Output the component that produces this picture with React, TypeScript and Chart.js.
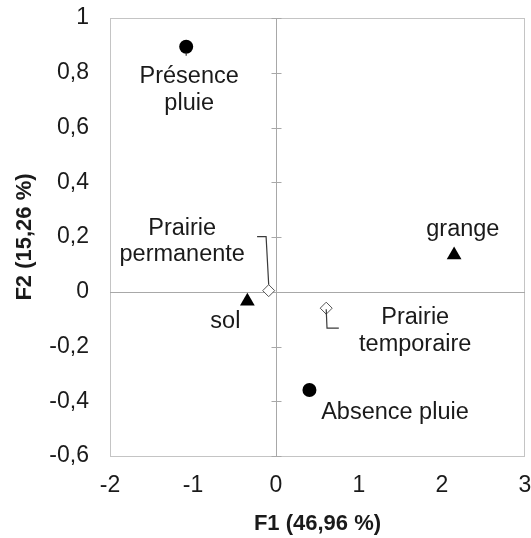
import React, { useEffect, useRef } from "react";
import { Chart, registerables } from "chart.js";

Chart.register(...registerables);

// ---- data ----
const rainNames = ["Présence pluie", "Absence pluie"];
const rainX = [-1.082, 0.403];
const rainY = [0.895, -0.359];

const placeNames = ["sol", "grange"];
const placeX = [-0.345, 2.146];
const placeY = [-0.035, 0.134];

const meadowNames = ["Prairie permanente", "Prairie temporaire"];
const meadowX = [-0.088, 0.605];
const meadowY = [0.004, -0.06];

const xTickValues = [-2, -1, 0, 1, 2, 3];
const xTickLabels = ["-2", "-1", "0", "1", "2", "3"];
const yTickValues = [-0.6, -0.4, -0.2, 0, 0.2, 0.4, 0.6, 0.8, 1];
const yTickLabels = ["-0,6", "-0,4", "-0,2", "0", "0,2", "0,4", "0,6", "0,8", "1"];

const xTitle = "F1 (46,96 %)";
const yTitle = "F2 (15,26 %)";

// ---- label layout (pixel offsets from the point) ----
type LabelLayout = { lines: string[]; dx: number; dy: number[]; leader?: [number, number][] };
const labelLayout: Record<string, LabelLayout> = {
  "Présence pluie": { lines: ["Présence", "pluie"], dx: 3, dy: [36, 63.3], leader: [[0, 6], [0, 9]] },
  "Absence pluie": { lines: ["Absence pluie"], dx: 85.5, dy: [29] },
  sol: { lines: ["sol"], dx: -22, dy: [27] },
  grange: { lines: ["grange"], dx: 8.7, dy: [-19] },
  "Prairie permanente": {
    lines: ["Prairie", "permanente"],
    dx: -86.5,
    dy: [-55.7, -29.7],
    leader: [[-11.6, -54], [-2.6, -54], [0, -6]],
  },
  "Prairie temporaire": {
    lines: ["Prairie", "temporaire"],
    dx: 89,
    dy: [16, 42.7],
    leader: [[0, 1], [0.8, 20], [12.6, 20]],
  },
};

const FONT = "'Liberation Sans', Arial, Helvetica, sans-serif";
const TEXT = "#1a1a1a";

const decor = {
  id: "decor",
  beforeDatasetsDraw(chart: any) {
    const { ctx, chartArea } = chart;
    const xs = chart.scales.x;
    const ys = chart.scales.y;
    ctx.save();
    // frame
    ctx.strokeStyle = "#c4c4c4";
    ctx.lineWidth = 1;
    ctx.strokeRect(
      Math.round(chartArea.left) + 0.5,
      Math.round(chartArea.top) + 0.5,
      Math.round(chartArea.right - chartArea.left) - 1,
      Math.round(chartArea.bottom - chartArea.top)
    );
    // zero lines
    const x0 = Math.round(xs.getPixelForValue(0)) + 0.5;
    const y0 = Math.round(ys.getPixelForValue(0)) + 0.5;
    ctx.strokeStyle = "#a8a8a8";
    ctx.beginPath();
    ctx.moveTo(x0, chartArea.top);
    ctx.lineTo(x0, chartArea.bottom);
    ctx.moveTo(chartArea.left, y0);
    ctx.lineTo(chartArea.right, y0);
    // tick marks on the vertical zero line
    yTickValues.forEach((v) => {
      const py = Math.round(ys.getPixelForValue(v)) + 0.5;
      ctx.moveTo(x0 - 5, py);
      ctx.lineTo(x0 + 5, py);
    });
    ctx.stroke();
    ctx.restore();
  },
  afterDatasetsDraw(chart: any) {
    const { ctx } = chart;
    ctx.save();
    chart.data.datasets.forEach((ds: any, di: number) => {
      const meta = chart.getDatasetMeta(di);
      ds.names.forEach((name: string, i: number) => {
        const el = meta.data[i];
        const lay = labelLayout[name];
        if (!el || !lay) return;
        const px = el.x;
        const py = el.y;
        if (lay.leader) {
          ctx.strokeStyle = "#3a3a3a";
          ctx.lineWidth = 1.2;
          ctx.beginPath();
          lay.leader.forEach(([lx, ly], k) => {
            if (k === 0) ctx.moveTo(px + lx, py + ly);
            else ctx.lineTo(px + lx, py + ly);
          });
          ctx.stroke();
        }
        ctx.fillStyle = TEXT;
        ctx.font = `23.5px ${FONT}`;
        ctx.textAlign = "center";
        ctx.textBaseline = "alphabetic";
        lay.lines.forEach((line, k) => {
          ctx.fillText(line, px + lay.dx, py + lay.dy[k]);
        });
      });
    });
    ctx.restore();
  },
};

export default function App() {
  const ref = useRef<HTMLCanvasElement | null>(null);

  useEffect(() => {
    if (!ref.current) return;
    Chart.defaults.font.family = FONT;
    const toPts = (xs: number[], ys: number[]) => xs.map((x, i) => ({ x, y: ys[i] }));
    const chart = new Chart(ref.current, {
      type: "scatter",
      data: {
        datasets: [
          {
            label: "pluie",
            names: rainNames,
            data: toPts(rainX, rainY),
            pointStyle: "circle",
            pointRadius: 7,
            backgroundColor: "#000",
            borderColor: "#000",
            borderWidth: 0,
          } as any,
          {
            label: "lieu",
            names: placeNames,
            data: toPts(placeX, placeY),
            pointStyle: "triangle",
            pointRadius: 8.5,
            backgroundColor: "#000",
            borderColor: "#000",
            borderWidth: 0,
          } as any,
          {
            label: "prairie",
            names: meadowNames,
            data: toPts(meadowX, meadowY),
            pointStyle: "rectRot",
            pointRadius: 6,
            backgroundColor: "#fff",
            borderColor: "#555",
            borderWidth: 1,
          } as any,
        ],
      },
      options: {
        animation: false,
        responsive: false,
        events: [],
        layout: { autoPadding: false, padding: { top: 18, right: 6, bottom: 0, left: 0 } },
        plugins: { legend: { display: false }, tooltip: { enabled: false } },
        scales: {
          x: {
            type: "linear",
            min: -2,
            max: 3,
            grid: { display: false, drawTicks: false },
            border: { display: false },
            afterBuildTicks: (s: any) => {
              s.ticks = xTickValues.map((v) => ({ value: v }));
            },
            afterFit: (s: any) => {
              s.height = 82;
              s.paddingLeft = 0;
              s.paddingRight = 0;
              s.paddingTop = 0;
              s.paddingBottom = 0;
            },
            ticks: {
              autoSkip: false,
              maxRotation: 0,
              padding: 16,
              color: TEXT,
              font: { size: 23, family: FONT },
              callback: (_v: any, i: number) => xTickLabels[i],
            },
            title: {
              display: true,
              text: xTitle,
              color: TEXT,
              font: { size: 22, weight: "bold", family: FONT },
              padding: { top: 0, bottom: 1 },
            },
          },
          y: {
            type: "linear",
            min: -0.6,
            max: 1,
            grid: { display: false, drawTicks: false },
            border: { display: false },
            afterBuildTicks: (s: any) => {
              s.ticks = yTickValues.map((v) => ({ value: v }));
            },
            afterFit: (s: any) => {
              s.width = 110;
              s.paddingLeft = 0;
              s.paddingRight = 0;
              s.paddingTop = 0;
              s.paddingBottom = 0;
            },
            ticks: {
              autoSkip: false,
              padding: 21,
              color: TEXT,
              font: { size: 23, family: FONT },
              callback: (_v: any, i: number) => yTickLabels[i],
            },
            title: {
              display: true,
              text: yTitle,
              color: TEXT,
              font: { size: 22, weight: "bold", family: FONT },
              padding: { top: 12, bottom: 0 },
            },
          },
        },
      } as any,
      plugins: [decor],
    });
    return () => chart.destroy();
  }, []);

  return (
    <div style={{ position: "absolute", left: 0, top: 0, width: 531, height: 538, background: "#fff" }}>
      <canvas ref={ref} width={531} height={538} style={{ display: "block" }} />
    </div>
  );
}
